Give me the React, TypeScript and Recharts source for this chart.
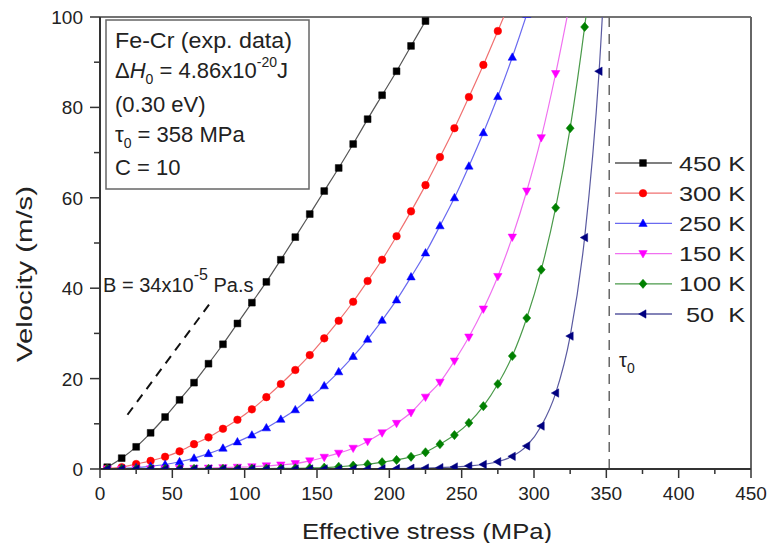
import React from 'react';
import { LineChart, Line, XAxis, YAxis, ReferenceLine, Legend } from 'recharts';

// effective stress (MPa) at which each curve was sampled, 10 MPa apart
const stress450 = [5, 15, 25, 35, 45, 55, 65, 75, 85, 95, 105, 115, 125, 135, 145, 155, 165, 175, 185, 195, 205, 215, 225, 235];
const velocity450 = [0.4, 2.4, 4.9, 8.0, 11.5, 15.3, 19.1, 23.3, 27.6, 32.2, 36.8, 41.4, 46.3, 51.3, 56.4, 61.5, 66.6, 71.9, 77.4, 82.7, 88.0, 93.6, 99.1, 104.8];

const stress300 = [5, 15, 25, 35, 45, 55, 65, 75, 85, 95, 105, 115, 125, 135, 145, 155, 165, 175, 185, 195, 205, 215, 225, 235, 245, 255, 265, 275, 285];
const velocity300 = [0.1, 0.4, 1.1, 1.8, 2.7, 3.9, 5.5, 7.0, 8.9, 10.9, 13.2, 15.9, 18.8, 21.9, 25.2, 28.9, 32.8, 37.0, 41.6, 46.3, 51.5, 57.0, 62.8, 69.0, 75.4, 82.3, 89.4, 96.9, 104.6];

const stress250 = [5, 15, 25, 35, 45, 55, 65, 75, 85, 95, 105, 115, 125, 135, 145, 155, 165, 175, 185, 195, 205, 215, 225, 235, 245, 255, 265, 275, 285, 295, 305];
const velocity250 = [0.05, 0.15, 0.3, 0.6, 1.0, 1.6, 2.4, 3.4, 4.6, 6.0, 7.5, 9.1, 11.0, 13.1, 15.7, 18.4, 21.5, 24.9, 28.7, 32.9, 37.4, 42.5, 47.8, 53.8, 60.0, 67.0, 74.4, 82.4, 91.1, 100.6, 111];

const stress150 = [5, 15, 25, 35, 45, 55, 65, 75, 85, 95, 105, 115, 125, 135, 145, 155, 165, 175, 185, 195, 205, 215, 225, 235, 245, 255, 265, 275, 285, 295, 305, 315, 325];
const velocity150 = [0, 0, 0.02, 0.04, 0.06, 0.1, 0.15, 0.2, 0.3, 0.4, 0.5, 0.7, 0.9, 1.2, 1.8, 2.6, 3.5, 4.6, 6.1, 8.0, 10.1, 12.5, 15.9, 19.2, 23.9, 29.2, 35.4, 42.6, 51.3, 61.5, 73.3, 87.5, 103.5];

const stress100 = [5, 15, 25, 35, 45, 55, 65, 75, 85, 95, 105, 115, 125, 135, 145, 155, 165, 175, 185, 195, 205, 215, 225, 235, 245, 255, 265, 275, 285, 295, 305, 315, 325, 335, 345];
const velocity100 = [0, 0, 0, 0, 0.01, 0.02, 0.03, 0.04, 0.05, 0.06, 0.07, 0.09, 0.12, 0.16, 0.22, 0.3, 0.5, 0.75, 1.05, 1.5, 2.0, 2.7, 3.7, 5.5, 7.5, 10.2, 13.9, 18.8, 25.0, 33.4, 44.1, 57.8, 75.4, 97.8, 125];

const stress50 = [5, 15, 25, 35, 45, 55, 65, 75, 85, 95, 105, 115, 125, 135, 145, 155, 165, 175, 185, 195, 205, 215, 225, 235, 245, 255, 265, 275, 285, 295, 305, 315, 325, 335, 345, 355];
const velocity50 = [0, 0, 0, 0, 0, 0, 0, 0, 0, 0, 0, 0, 0, 0, 0, 0.01, 0.02, 0.03, 0.05, 0.07, 0.1, 0.15, 0.2, 0.3, 0.45, 0.7, 1.0, 1.6, 2.8, 5.1, 9.5, 16.8, 29.4, 51.2, 88.0, 150];

const xTicks = [0, 25, 50, 75, 100, 125, 150, 175, 200, 225, 250, 275, 300, 325, 350, 375, 400, 425, 450];
const yTicks = [0, 10, 20, 30, 40, 50, 60, 70, 80, 90, 100];

const tau0 = 352;
const viscousLine = [{ x: 19, y: 12 }, { x: 78, y: 37.5 }];

type Shape = 'square' | 'circle' | 'up' | 'down' | 'diamond' | 'left';

const series: { name: string; xs: number[]; vs: number[]; color: string; line: string; shape: Shape }[] = [
    { name: '450 K', xs: stress450, vs: velocity450, color: '#000000', line: '#555555', shape: 'square' },
    { name: '300 K', xs: stress300, vs: velocity300, color: '#ff0000', line: '#f07070', shape: 'circle' },
    { name: '250 K', xs: stress250, vs: velocity250, color: '#0000ff', line: '#6a6af0', shape: 'up' },
    { name: '150 K', xs: stress150, vs: velocity150, color: '#ff00ff', line: '#f070f0', shape: 'down' },
    { name: '100 K', xs: stress100, vs: velocity100, color: '#008000', line: '#4a9a4a', shape: 'diamond' },
    { name: ' 50  K', xs: stress50, vs: velocity50, color: '#000080', line: '#5a5aa0', shape: 'left' },
];

const FONT = '"Liberation Sans", Arial, sans-serif';
const TICK_SIZE = 9;
const TICK_MARGIN = 4;

const markerPath = (shape: Shape, cx: number, cy: number) => {
    switch (shape) {
        case 'square':
            return `M${cx - 3.4},${cy - 3.4}h6.8v6.8h-6.8Z`;
        case 'circle':
            return `M${cx - 3.8},${cy}a3.8,3.8 0 1 0 7.6,0a3.8,3.8 0 1 0 -7.6,0Z`;
        case 'up':
            return `M${cx},${cy - 4.4}L${cx + 4.2},${cy + 3}L${cx - 4.2},${cy + 3}Z`;
        case 'down':
            return `M${cx},${cy + 4.4}L${cx + 4.2},${cy - 3}L${cx - 4.2},${cy - 3}Z`;
        case 'diamond':
            return `M${cx},${cy - 4.6}L${cx + 4},${cy}L${cx},${cy + 4.6}L${cx - 4},${cy}Z`;
        default:
            return `M${cx - 4.4},${cy}L${cx + 3},${cy - 4.2}L${cx + 3},${cy + 4.2}Z`;
    }
};

const renderDot = (shape: Shape, color: string) => (p: any) => {
    const { cx, cy, index } = p;
    if (cx == null || cy == null) return <g key={`${shape}-${index}`} />;
    return <path key={`${shape}-${index}`} d={markerPath(shape, cx, cy)} fill={color} stroke={color} strokeWidth={0.5} />;
};

const XTick = (p: any) => {
    const { x, y, payload } = p;
    const major = payload.value % 50 === 0;
    const axisY = y - TICK_SIZE - TICK_MARGIN;
    return (
        <g>
            <line x1={x} x2={x} y1={axisY} y2={axisY + (major ? 9 : 5)} stroke="#333" strokeWidth={1.5} />
            {major && (
                <text x={x} y={axisY + 31} textAnchor="middle" fontSize={19} fontFamily={FONT} fill="#222">
                    {payload.value}
                </text>
            )}
        </g>
    );
};

const YTick = (p: any) => {
    const { x, y, payload } = p;
    const major = payload.value % 20 === 0;
    const axisX = x + TICK_SIZE + TICK_MARGIN;
    return (
        <g>
            <line x1={axisX} x2={axisX - (major ? 10 : 6)} y1={y} y2={y} stroke="#333" strokeWidth={1.5} />
            {major && (
                <text x={axisX - 17} y={y + 7} textAnchor="end" fontSize={19} fontFamily={FONT} fill="#222">
                    {payload.value}
                </text>
            )}
        </g>
    );
};

const LegendBox = () => (
    <svg width={150} height={180}>
        {series.map((s, i) => {
            const cy = 15 + i * 30.2;
            return (
                <g key={s.name}>
                    <line x1={3} x2={60} y1={cy} y2={cy} stroke={s.line} strokeWidth={1.3} />
                    <path d={markerPath(s.shape, 31, cy)} fill={s.color} stroke={s.color} strokeWidth={0.5} />
                    <text x={67} y={cy + 7.5} fontSize={21} fontFamily={FONT} fill="#222" textLength={66} lengthAdjust="spacingAndGlyphs" style={{ whiteSpace: 'pre' }}>
                        {s.name}
                    </text>
                </g>
            );
        })}
    </svg>
);

export default function App() {
    return (
        <div style={{ position: 'absolute', left: 0, top: 0, width: 768, height: 543, background: '#fff' }}>
            <LineChart width={768} height={543} margin={{ top: 17, right: 17, bottom: 44, left: 40 }}>
                <XAxis
                    type="number"
                    dataKey="x"
                    domain={[0, 450]}
                    ticks={xTicks}
                    interval={0}
                    allowDataOverflow
                    height={30}
                    tickSize={TICK_SIZE}
                    tickMargin={TICK_MARGIN}
                    tickLine={false}
                    tick={XTick}
                    axisLine={{ stroke: '#333', strokeWidth: 2 }}
                />
                <YAxis
                    type="number"
                    domain={[0, 100]}
                    ticks={yTicks}
                    interval={0}
                    allowDataOverflow
                    width={60}
                    tickSize={TICK_SIZE}
                    tickMargin={TICK_MARGIN}
                    tickLine={false}
                    tick={YTick}
                    axisLine={{ stroke: '#333', strokeWidth: 2 }}
                />
                <ReferenceLine y={100} stroke="#444" strokeWidth={1.5} />
                <ReferenceLine x={450} stroke="#666" strokeWidth={2} />
                <ReferenceLine x={tau0} stroke="#666" strokeWidth={1.5} strokeDasharray="10 7" />
                <ReferenceLine segment={viscousLine} stroke="#111" strokeWidth={2} strokeDasharray="9 7" />
                {series.map((s) => (
                    <Line
                        key={s.name}
                        name={s.name}
                        type="monotone"
                        data={s.xs.map((x, i) => ({ x, v: s.vs[i] }))}
                        dataKey="v"
                        stroke={s.line}
                        strokeWidth={1.2}
                        dot={renderDot(s.shape, s.color)}
                        activeDot={false}
                        isAnimationActive={false}
                    />
                ))}
                <Legend
                    layout="vertical"
                    align="center"
                    verticalAlign="middle"
                    content={LegendBox}
                    wrapperStyle={{ left: 612, top: 148, width: 150, height: 180 }}
                />
            </LineChart>
            <svg width={768} height={543} style={{ position: 'absolute', left: 0, top: 0, pointerEvents: 'none' }} fontFamily={FONT} fill="#222">
                <rect x={106} y={20} width={203} height={169} fill="none" stroke="#666" strokeWidth={1.5} />
                <text x={115} y={48} fontSize={22} textLength={177} lengthAdjust="spacingAndGlyphs">Fe-Cr (exp. data)</text>
                <text x={115} y={78} fontSize={22}>
                    <tspan>Δ</tspan>
                    <tspan fontStyle="italic">H</tspan>
                    <tspan fontSize={14} dy={6}>0</tspan>
                    <tspan dy={-6}> = 4.86x10</tspan>
                    <tspan fontSize={14} dy={-11}>-20</tspan>
                    <tspan dy={11}>J</tspan>
                </text>
                <text x={115} y={112} fontSize={22}>(0.30 eV)</text>
                <text x={115} y={142} fontSize={22}>
                    <tspan>τ</tspan>
                    <tspan fontSize={14} dy={6}>0</tspan>
                    <tspan dy={-6}> = 358 MPa</tspan>
                </text>
                <text x={115} y={175} fontSize={22}>C = 10</text>
                <text x={103} y={292} fontSize={20}>
                    <tspan>B = 34x10</tspan>
                    <tspan fontSize={16} dy={-12}>-5</tspan>
                    <tspan dy={12}> Pa.s</tspan>
                </text>
                <text x={619} y={367} fontSize={20}>
                    <tspan>τ</tspan>
                    <tspan fontSize={14} dy={6}>0</tspan>
                </text>
                <text x={427} y={539} fontSize={22} textAnchor="middle" textLength={250} lengthAdjust="spacingAndGlyphs">Effective stress (MPa)</text>
                <text x={0} y={0} fontSize={22} textAnchor="middle" textLength={176} lengthAdjust="spacingAndGlyphs" transform="translate(32,274) rotate(-90)">Velocity (m/s)</text>
            </svg>
        </div>
    );
}
